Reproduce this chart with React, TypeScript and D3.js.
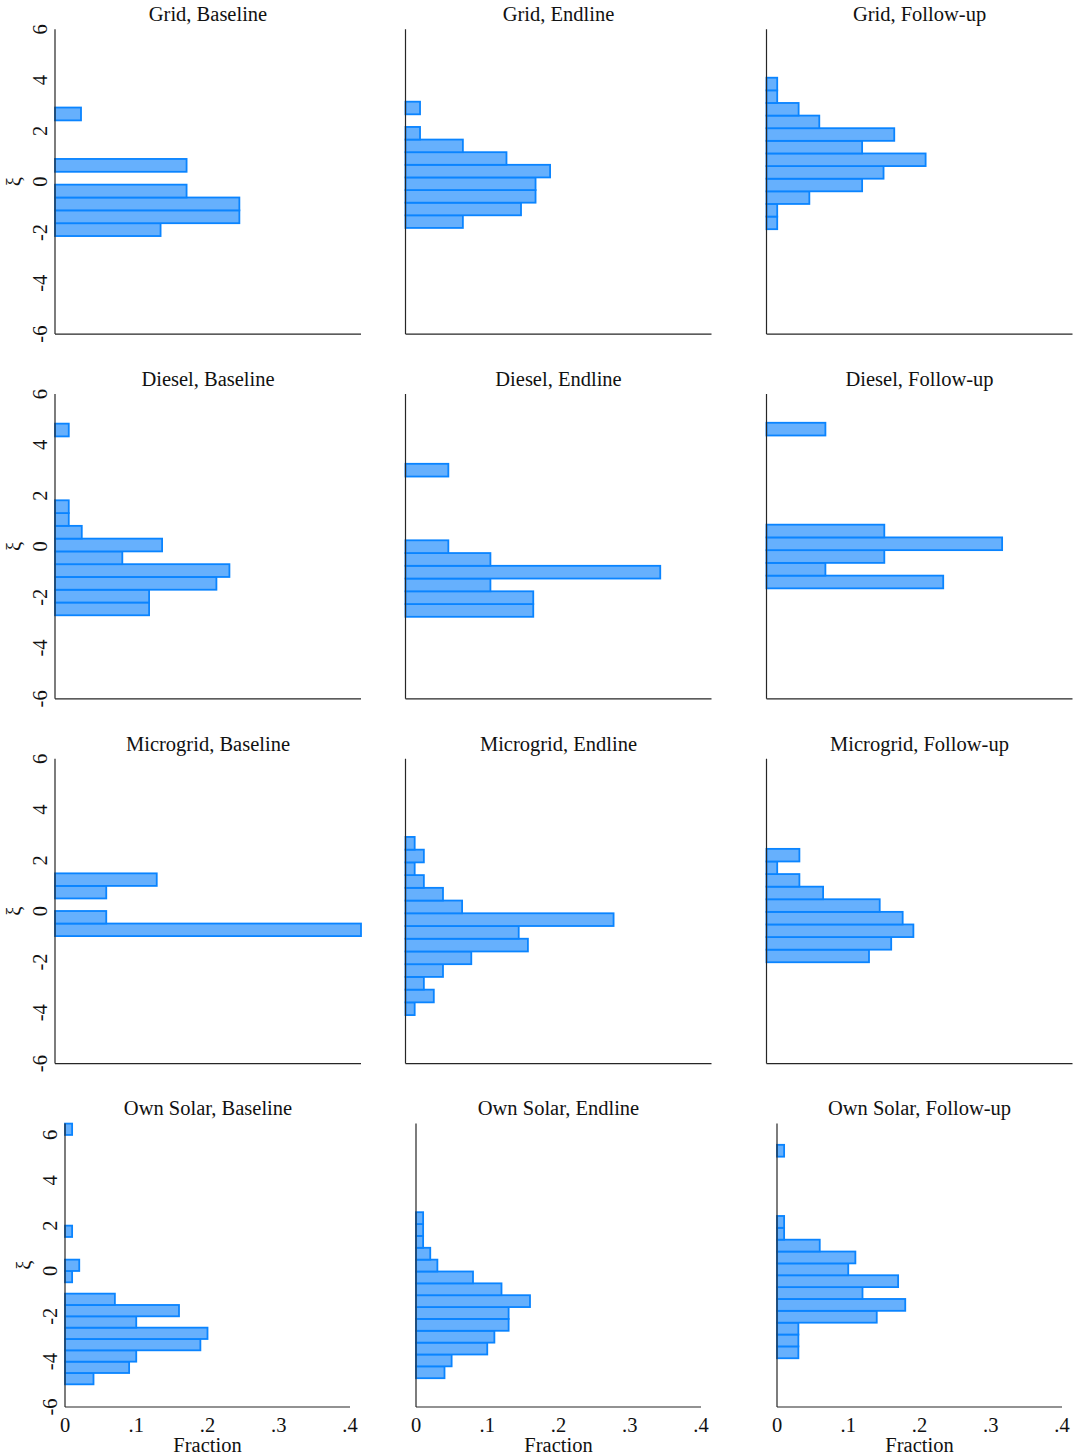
import React from "react";
import * as d3 from "d3";

// Row (energy source) and column (survey wave) labels
const sources = ["Grid", "Diesel", "Microgrid", "Own Solar"];
const waves = ["Baseline", "Endline", "Follow-up"];

// Lower edge of the first bin and bin width for each panel (rows = sources, cols = waves)
const binStarts = [
  [-2.14, -1.82, -1.87],
  [-2.71, -2.77, -1.65],
  [-0.98, -4.09, -2.01],
  [-5.0, -4.73, -3.85],
];
const binWidths = [
  [0.506, 0.497, 0.497],
  [0.503, 0.502, 0.5015],
  [0.494, 0.501, 0.496],
  [0.5, 0.523, 0.523],
];

// Fraction of observations per bin, listed from the lowest bin upward
const gridBaseline = [0.138, 0.241, 0.241, 0.172, 0, 0.172, 0, 0, 0, 0.034];
const gridEndline = [0.075, 0.151, 0.17, 0.17, 0.189, 0.132, 0.075, 0.019, 0, 0.019];
const gridFollowup = [0.014, 0.014, 0.056, 0.125, 0.153, 0.208, 0.125, 0.167, 0.069, 0.042, 0.014, 0.014];

const dieselBaseline = [0.123, 0.123, 0.211, 0.228, 0.088, 0.14, 0.035, 0.018, 0.018, 0, 0, 0, 0, 0, 0.018];
const dieselEndline = [0.167, 0.167, 0.111, 0.333, 0.111, 0.056, 0, 0, 0, 0, 0, 0.056];
const dieselFollowup = [0.231, 0.077, 0.154, 0.308, 0.154, 0, 0, 0, 0, 0, 0, 0, 0.077];

const microBaseline = [0.4, 0.067, 0, 0.067, 0.133];
const microEndline = [0.012, 0.037, 0.024, 0.049, 0.086, 0.16, 0.148, 0.272, 0.074, 0.049, 0.024, 0.012, 0.024, 0.012];
const microFollowup = [0.134, 0.163, 0.192, 0.178, 0.148, 0.074, 0.043, 0.014, 0.043];

const solarBaseline = [
  0.04, 0.09, 0.1, 0.19, 0.2, 0.1, 0.16, 0.07, 0, 0.01, 0.02, 0, 0, 0.01,
  0, 0, 0, 0, 0, 0, 0, 0, 0.01,
];
const solarEndline = [0.04, 0.05, 0.1, 0.11, 0.13, 0.13, 0.16, 0.12, 0.08, 0.03, 0.02, 0.01, 0.01, 0.01];
const solarFollowup = [0.03, 0.03, 0.03, 0.14, 0.18, 0.12, 0.17, 0.1, 0.11, 0.06, 0.01, 0.01, 0, 0, 0, 0, 0, 0.01];

const fractions = [
  [gridBaseline, gridEndline, gridFollowup],
  [dieselBaseline, dieselEndline, dieselFollowup],
  [microBaseline, microEndline, microFollowup],
  [solarBaseline, solarEndline, solarFollowup],
];

const xTicks = [0, 0.1, 0.2, 0.3, 0.4];
const yTicks = [-6, -4, -2, 0, 2, 4, 6];

const FONT = '"Liberation Serif", "Times New Roman", Times, serif';
const FS = 20.5;
const FILL = "#66b0fd";
const EDGE = "#0a84ff";
const AXIS = "#262626";

const W = 1075;
const H = 1456;
const ROW_STEP = 364.75;
const titleX = [208, 558.5, 919.5];
const axisX = [55, 405.5, 766.5];
const axisXBottom = [65, 416, 777];

const fmtX = (v: number) => (v === 0 ? "0" : d3.format(".1f")(v).replace(/^0/, ""));

function Panel({ r, c }: { r: number; c: number }) {
  const bottomRow = r === sources.length - 1;
  const x0 = bottomRow ? axisXBottom[c] : axisX[c];
  const pw = bottomRow ? 285 : 306;
  const yTop = bottomRow ? 1123.6 : 29.3 + ROW_STEP * r;
  const yBot = bottomRow ? 1407 : 334.1 + ROW_STEP * r;
  const yDomain = bottomRow ? [-6, 6.5] : [-6, 6];

  const x = d3.scaleLinear().domain([0, 0.4]).range([x0, x0 + pw]).clamp(true);
  const y = d3.scaleLinear().domain(yDomain).range([yBot, yTop]);

  const start = binStarts[r][c];
  const width = binWidths[r][c];
  const bins = fractions[r][c]
    .map((v, i) => ({ lo: start + i * width, hi: start + (i + 1) * width, v }))
    .filter((b) => b.v > 0);

  const titleY = 21 + ROW_STEP * r;
  const midY = (yTop + yBot) / 2;

  return (
    <g>
      <text
        x={titleX[c]}
        y={titleY}
        textAnchor="middle"
        fontFamily={FONT}
        fontSize={FS}
        fill="#111"
      >
        {`${sources[r]}, ${waves[c]}`}
      </text>

      {bins.map((b, i) => (
        <rect
          key={i}
          x={x(0)}
          y={y(b.hi)}
          width={x(b.v) - x(0)}
          height={y(b.lo) - y(b.hi)}
          fill={FILL}
          stroke={EDGE}
          strokeWidth={1.8}
        />
      ))}

      <line x1={x0} x2={x0} y1={yTop} y2={yBot} stroke={AXIS} strokeWidth={1.2} />
      <line x1={x0} x2={x0 + pw} y1={yBot} y2={yBot} stroke={AXIS} strokeWidth={1.2} />

      {c === 0 &&
        yTicks.map((t) => (
          <text
            key={t}
            transform={`translate(${x0 - 8},${y(t)}) rotate(-90)`}
            textAnchor="middle"
            fontFamily={FONT}
            fontSize={FS}
            fill="#111"
          >
            {String(t)}
          </text>
        ))}
      {c === 0 && (
        <text
          transform={`translate(${x0 - 41},${midY}) rotate(-90)`}
          textAnchor="middle"
          dominantBaseline="central"
          fontFamily={FONT}
          fontSize={FS}
          fill="#111"
        >
          ξ
        </text>
      )}

      {bottomRow &&
        xTicks.map((t) => (
          <text
            key={t}
            x={x(t)}
            y={1432}
            textAnchor="middle"
            fontFamily={FONT}
            fontSize={FS}
            fill="#111"
          >
            {fmtX(t)}
          </text>
        ))}
      {bottomRow && (
        <text
          x={x0 + pw / 2}
          y={1452}
          textAnchor="middle"
          fontFamily={FONT}
          fontSize={FS}
          fill="#111"
        >
          Fraction
        </text>
      )}
    </g>
  );
}

export default function App() {
  const cells: { r: number; c: number }[] = [];
  sources.forEach((_, r) => waves.forEach((__, c) => cells.push({ r, c })));
  return (
    <div style={{ position: "absolute", left: 0, top: 0 }}>
      <svg width={W} height={H} viewBox={`0 0 ${W} ${H}`} style={{ display: "block", background: "#fff" }}>
        <rect width={W} height={H} fill="#fff" />
        {cells.map(({ r, c }) => (
          <Panel key={`${r}-${c}`} r={r} c={c} />
        ))}
      </svg>
    </div>
  );
}
